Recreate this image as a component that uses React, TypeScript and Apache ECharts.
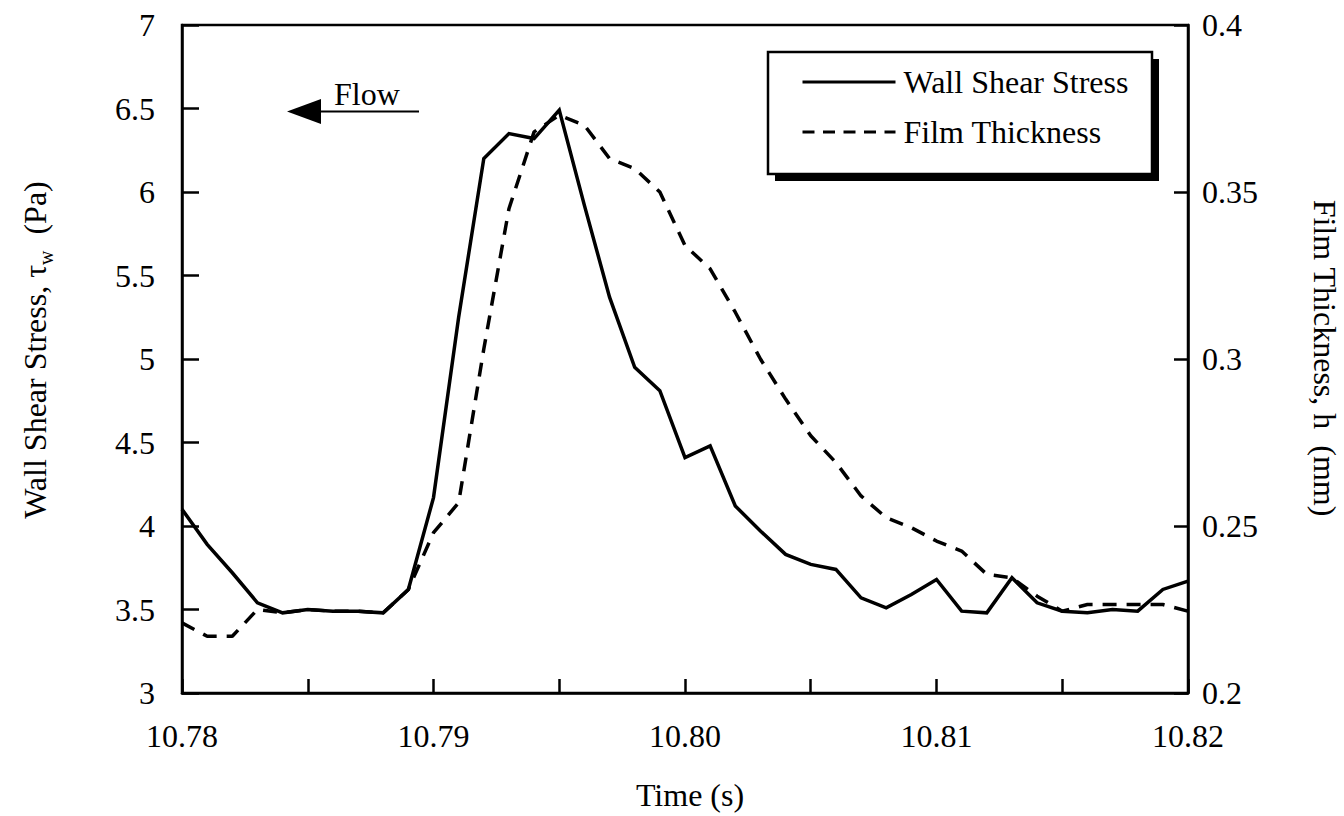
import React, { useEffect, useRef } from "react";
import * as echarts from "echarts";

const times = [
  10.78, 10.781, 10.782, 10.783, 10.784, 10.785, 10.786, 10.787, 10.788, 10.789,
  10.79, 10.791, 10.792, 10.793, 10.794, 10.795, 10.796, 10.797, 10.798, 10.799,
  10.8, 10.801, 10.802, 10.803, 10.804, 10.805, 10.806, 10.807, 10.808, 10.809,
  10.81, 10.811, 10.812, 10.813, 10.814, 10.815, 10.816, 10.817, 10.818, 10.819,
  10.82,
];

const wallShearStress = [
  4.1, 3.89, 3.72, 3.54, 3.48, 3.5, 3.49, 3.49, 3.48, 3.62,
  4.17, 5.25, 6.2, 6.35, 6.32, 6.49, 5.92, 5.37, 4.95, 4.81,
  4.41, 4.48, 4.12, 3.97, 3.83, 3.77, 3.74, 3.57, 3.51, 3.59,
  3.68, 3.49, 3.48, 3.69, 3.54, 3.49, 3.48, 3.5, 3.49, 3.62,
  3.67,
];

const filmThickness = [
  0.221, 0.217, 0.217, 0.225, 0.224, 0.225, 0.2245, 0.2245, 0.224, 0.231,
  0.248, 0.257, 0.303, 0.345, 0.368, 0.373, 0.37, 0.36, 0.357, 0.35,
  0.334, 0.327, 0.314, 0.3, 0.288, 0.277, 0.269, 0.259, 0.2525, 0.2495,
  0.2455, 0.2425, 0.2355, 0.2345, 0.229, 0.2245, 0.2265, 0.2265, 0.2265, 0.2265,
  0.2245,
];

const seriesNames = ["Wall Shear Stress", "Film Thickness"];

const FONT = "'Liberation Serif', 'Times New Roman', serif";
const FS = 32;

export default function App() {
  const ref = useRef<HTMLDivElement>(null);

  useEffect(() => {
    if (!ref.current) return;
    const chart = echarts.init(ref.current, undefined, { renderer: "svg" });
    const axisLine = { show: true, lineStyle: { color: "#000", width: 2.5 } };
    const labelStyle = { color: "#000", fontSize: FS, fontFamily: FONT };
    const option: any = {
      animation: false,
      backgroundColor: "#fff",
      grid: {
        left: 182,
        right: 156,
        top: 25,
        bottom: 123,
        show: true,
        borderColor: "#000",
        borderWidth: 2.5,
        backgroundColor: "transparent",
      },
      xAxis: {
        type: "value",
        min: 10.78,
        max: 10.82,
        interval: 0.005,
        axisLine,
        axisTick: { show: true, inside: true, length: 14, lineStyle: { color: "#000", width: 2.5 } },
        splitLine: { show: false },
        axisLabel: {
          ...labelStyle,
          margin: 27,
          formatter: (v: number) => {
            const r = Math.round(v * 1000);
            return r % 10 === 0 ? (r / 1000).toFixed(2) : "";
          },
        },
      },
      yAxis: [
        {
          type: "value",
          min: 3,
          max: 7,
          interval: 0.5,
          position: "left",
          axisLine,
          axisTick: { show: true, inside: true, length: 17, lineStyle: { color: "#000", width: 2.5 } },
          splitLine: { show: false },
          axisLabel: { ...labelStyle, margin: 27 },
        },
        {
          type: "value",
          min: 0.2,
          max: 0.4,
          interval: 0.05,
          position: "right",
          axisLine,
          axisTick: { show: true, inside: true, length: 14, lineStyle: { color: "#000", width: 2.5 } },
          splitLine: { show: false },
          axisLabel: { ...labelStyle, margin: 14 },
        },
      ],
      legend: {
        show: true,
        orient: "vertical",
        left: 796,
        top: 61,
        z: 10,
        itemWidth: 93,
        itemHeight: 14,
        itemGap: 18,
        itemStyle: { opacity: 0 },
        textStyle: { ...labelStyle, lineHeight: 30, padding: [0, 0, 0, 3] },
        data: [
          { name: seriesNames[0], itemStyle: { opacity: 0 }, lineStyle: { width: 3, type: "solid" } },
          { name: seriesNames[1], itemStyle: { opacity: 0 }, lineStyle: { width: 3, type: [12, 8.5] } },
        ],
      },
      graphic: [
        {
          type: "rect",
          z: 3,
          shape: { x: 775, y: 59, width: 384, height: 122 },
          style: { fill: "#000" },
        },
        {
          type: "rect",
          z: 4,
          shape: { x: 768, y: 52, width: 384, height: 122 },
          style: { fill: "#fff", stroke: "#000", lineWidth: 2.5 },
        },
        {
          type: "polygon",
          z: 5,
          shape: { points: [[287, 111.5], [321, 99], [321, 124]] },
          style: { fill: "#000" },
        },
        {
          type: "line",
          z: 5,
          shape: { x1: 320, y1: 111.5, x2: 419, y2: 111.5 },
          style: { stroke: "#000", lineWidth: 2 },
        },
        {
          type: "text",
          z: 5,
          x: 334,
          y: 94,
          style: {
            text: "Flow",
            fontSize: FS,
            fontFamily: FONT,
            fill: "#000",
            align: "left",
            verticalAlign: "middle",
            textAlign: "left",
            textVerticalAlign: "middle",
          },
        },
        {
          type: "text",
          z: 5,
          x: 690,
          y: 795,
          style: {
            text: "Time (s)",
            fontSize: FS,
            fontFamily: FONT,
            fill: "#000",
            align: "center",
            verticalAlign: "middle",
            textAlign: "center",
            textVerticalAlign: "middle",
          },
        },
        {
          type: "text",
          z: 5,
          x: 35,
          y: 350,
          rotation: Math.PI / 2,
          style: {
            text: "{a|Wall Shear Stress, τ}{s|w}{a|  (Pa)}",
            fontSize: FS,
            fontFamily: FONT,
            fill: "#000",
            align: "center",
            verticalAlign: "middle",
            textAlign: "center",
            textVerticalAlign: "middle",
            rich: {
              a: { fontSize: FS, fontFamily: FONT, fill: "#000", lineHeight: 44, verticalAlign: "middle" },
              s: { fontSize: 20, fontFamily: FONT, fill: "#000", lineHeight: 20, padding: [22, 0, 0, 0], verticalAlign: "middle" },
            },
          },
        },
        {
          type: "text",
          z: 5,
          x: 1325,
          y: 358,
          rotation: -Math.PI / 2,
          style: {
            text: "Film Thickness, h  (mm)",
            fontSize: FS,
            fontFamily: FONT,
            fill: "#000",
            align: "center",
            verticalAlign: "middle",
            textAlign: "center",
            textVerticalAlign: "middle",
          },
        },
      ],
      series: [
        {
          name: seriesNames[0],
          type: "line",
          yAxisIndex: 0,
          symbol: "none",
          data: times.map((t, i) => [t, wallShearStress[i]]),
          lineStyle: { color: "#000", width: 3.5, type: "solid", join: "miter" },
          itemStyle: { color: "#000" },
        },
        {
          name: seriesNames[1],
          type: "line",
          yAxisIndex: 1,
          symbol: "none",
          data: times.map((t, i) => [t, filmThickness[i]]),
          lineStyle: { color: "#000", width: 3.5, type: [14, 10] },
          itemStyle: { color: "#000" },
        },
      ],
    };
    chart.setOption(option);
    return () => chart.dispose();
  }, []);

  return (
    <div
      ref={ref}
      style={{ position: "fixed", left: 0, top: 0, width: 1344, height: 816, background: "#fff" }}
    />
  );
}
